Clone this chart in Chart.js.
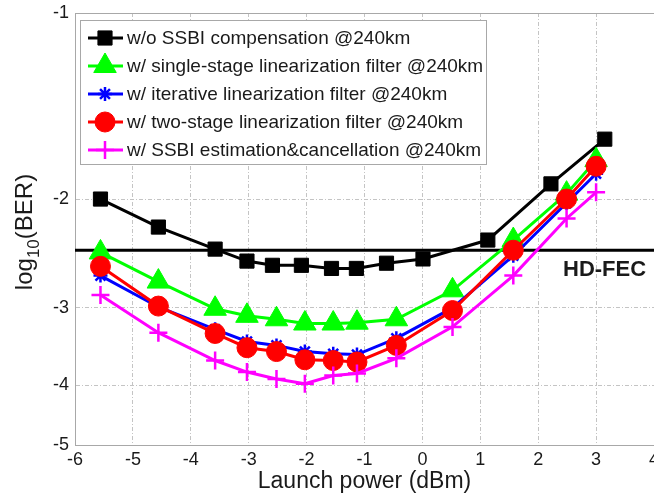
<!DOCTYPE html>
<html>
<head>
<meta charset="utf-8">
<title>BER vs launch power</title>
<script src="https://cdn.jsdelivr.net/npm/chart.js@4.4.1/dist/chart.umd.min.js"></script>
<style>
  html, body { margin: 0; padding: 0; background: #fff; }
  #wrap { width: 654px; height: 495px; }
</style>
</head>
<body>
<div id="wrap"><canvas id="berChart" width="654" height="495"></canvas></div>
<script>
// Launch power (dBm) and log10(BER)
const xTicks = [-6, -5, -4, -3, -2, -1, 0, 1, 2, 3, 4];
const yTicks = [-1, -2, -3, -4, -5];

const powerNoComp = [-5.56, -4.56, -3.58, -3.03, -2.59, -2.09, -1.57, -1.14, -0.62, 0.01, 1.13, 2.22, 3.15];
const powerFilter = [-5.56, -4.56, -3.58, -3.03, -2.52, -2.03, -1.54, -1.13, -0.45, 0.52, 1.57, 2.49, 3.0];

const berNoComp     = [-2.00, -2.22, -2.41, -2.52, -2.56, -2.56, -2.59, -2.59, -2.54, -2.50, -2.33, -1.89, -1.60];
const berSingle     = [-2.44, -2.72, -3.01, -3.09, -3.13, -3.18, -3.18, -3.17, -3.13, -2.81, -2.33, -1.96, -1.73];
const berIterative  = [-2.66, -2.99, -3.25, -3.40, -3.45, -3.53, -3.56, -3.57, -3.36, -3.00, -2.47, -2.03, -1.82];
const berTwoStage   = [-2.57, -2.98, -3.30, -3.48, -3.53, -3.64, -3.65, -3.67, -3.45, -3.03, -2.42, -2.00, -1.77];
const berEstCancel  = [-2.86, -3.29, -3.65, -3.81, -3.91, -3.98, -3.86, -3.83, -3.62, -3.22, -2.66, -2.15, -1.95];

const fecPower = [-6, 4];
const fecLevel = -2.42;

const FONT = "'Liberation Sans', Arial, Helvetica, sans-serif";
const TEXT = '#1a1a1a';

// the y axis is logarithmic in -log10(BER), drawn reversed
function toPoints(xs, ys) {
    return xs.map((x, i) => ({ x: x, y: -ys[i] }));
}

function series(label, xs, ys, color, style, radius, order) {
    const filled = style === 'rect' || style === 'circle' || style === 'triangle';
    return {
        label: label,
        data: toPoints(xs, ys),
        borderColor: color,
        borderWidth: 3,
        pointStyle: style,
        pointRadius: radius,
        pointBackgroundColor: color,
        pointBorderColor: color,
        pointBorderWidth: filled ? 1 : 2.5,
        order: order,
    };
}

// gray frame around the plot area
const framePlugin = {
    id: 'frame',
    beforeDatasetsDraw(chart) {
        const a = chart.chartArea;
        const ctx = chart.ctx;
        ctx.save();
        ctx.strokeStyle = '#a8a8a8';
        ctx.lineWidth = 1;
        ctx.strokeRect(a.left + 0.5, a.top + 0.5, a.right - a.left, a.bottom - a.top);
        ctx.restore();
    }
};

// MATLAB-like boxed legend, y title with subscript, HD-FEC label
const extrasPlugin = {
    id: 'extras',
    afterDraw(chart) {
        const ctx = chart.ctx;
        ctx.save();

        // legend
        ctx.fillStyle = '#fff';
        ctx.fillRect(80.5, 20.5, 406, 144);
        ctx.strokeStyle = '#a8a8a8';
        ctx.lineWidth = 1;
        ctx.strokeRect(80.5, 20.5, 406, 144);

        chart.data.datasets.forEach((ds, i) => {
            if (!ds.label) return;
            const y = 38 + i * 28;
            ctx.strokeStyle = ds.borderColor;
            ctx.lineWidth = ds.borderWidth;
            ctx.beginPath();
            ctx.moveTo(88, y);
            ctx.lineTo(123, y);
            ctx.stroke();

            ctx.fillStyle = ds.pointBackgroundColor;
            ctx.strokeStyle = ds.pointBorderColor;
            ctx.lineWidth = ds.pointBorderWidth;
            Chart.helpers.drawPoint(ctx, {
                pointStyle: ds.pointStyle,
                radius: ds.pointRadius,
                rotation: 0,
                borderWidth: ds.pointBorderWidth
            }, 105, y);

            ctx.fillStyle = TEXT;
            ctx.font = '19px ' + FONT;
            ctx.textAlign = 'left';
            ctx.textBaseline = 'middle';
            ctx.fillText(ds.label, 127, y + 1);
        });

        // HD-FEC label
        const yScale = chart.scales.y;
        const fecY = yScale.getPixelForValue(-fecLevel);
        ctx.fillStyle = TEXT;
        ctx.font = 'bold 22px ' + FONT;
        ctx.textAlign = 'left';
        ctx.textBaseline = 'middle';
        ctx.fillText('HD-FEC', 563, fecY + 20);

        // y axis title: log10(BER) with subscript
        ctx.translate(25, 232);
        ctx.rotate(-Math.PI / 2);
        const mainFont = '24px ' + FONT;
        const subFont = '17px ' + FONT;
        ctx.font = mainFont;
        const wLog = ctx.measureText('log').width;
        const wBer = ctx.measureText('(BER)').width;
        ctx.font = subFont;
        const wSub = ctx.measureText('10').width;
        let x0 = -(wLog + wSub + wBer) / 2;
        ctx.textAlign = 'left';
        ctx.textBaseline = 'middle';
        ctx.font = mainFont;
        ctx.fillText('log', x0, 0);
        ctx.font = subFont;
        ctx.fillText('10', x0 + wLog, 9);
        ctx.font = mainFont;
        ctx.fillText('(BER)', x0 + wLog + wSub, 0);

        ctx.restore();
    }
};

Chart.defaults.font.family = FONT;
Chart.defaults.color = TEXT;

const datasets = [
    series('w/o SSBI compensation @240km', powerNoComp, berNoComp, '#000000', 'rect', 10, 4),
    series('w/ single-stage linearization filter @240km', powerFilter, berSingle, '#00ff00', 'triangle', 13, 3),
    series('w/ iterative linearization filter @240km', powerFilter, berIterative, '#0000ff', 'star', 7, 2),
    series('w/ two-stage linearization filter @240km', powerFilter, berTwoStage, '#ff0000', 'circle', 10, 1),
    series('w/ SSBI estimation&cancellation @240km', powerFilter, berEstCancel, '#ff00ff', 'cross', 9, 0),
    {
        label: '',
        data: toPoints(fecPower, [fecLevel, fecLevel]),
        borderColor: '#000000',
        borderWidth: 3,
        pointRadius: 0,
        order: 5,
    },
];

new Chart(document.getElementById('berChart'), {
    type: 'line',
    data: { datasets: datasets },
    options: {
        responsive: false,
        animation: false,
        devicePixelRatio: 1,
        layout: { autoPadding: false, padding: { top: 13, left: 0, right: 0, bottom: 0 } },
        plugins: {
            legend: { display: false },
            tooltip: { enabled: false },
        },
        scales: {
            x: {
                type: 'linear',
                min: -6,
                max: 4,
                afterBuildTicks: (s) => { s.ticks = xTicks.map(v => ({ value: v })); },
                afterFit: (s) => { s.height = 50; s.paddingLeft = 0; s.paddingRight = 0; },
                ticks: { font: { size: 18 }, padding: 4, maxRotation: 0, autoSkip: false },
                grid: { color: '#c4c4c4', drawTicks: false },
                border: { color: '#a8a8a8', dash: [4, 2, 1, 2] },
                title: {
                    display: true,
                    text: 'Launch power (dBm)',
                    font: { size: 23 },
                    padding: { top: 0, bottom: 0 },
                },
            },
            y: {
                type: 'logarithmic',
                reverse: true,
                min: 1,
                max: 5,
                afterBuildTicks: (s) => { s.ticks = yTicks.map(v => ({ value: -v })); },
                afterFit: (s) => { s.width = 75; s.paddingTop = 0; s.paddingBottom = 0; },
                ticks: {
                    font: { size: 18 },
                    padding: 6,
                    autoSkip: false,
                    callback: (value) => '-' + value,
                },
                grid: { color: '#c4c4c4', drawTicks: false },
                border: { color: '#a8a8a8', dash: [4, 2, 1, 2] },
            },
        },
    },
    plugins: [framePlugin, extrasPlugin],
});
</script>
</body>
</html>
